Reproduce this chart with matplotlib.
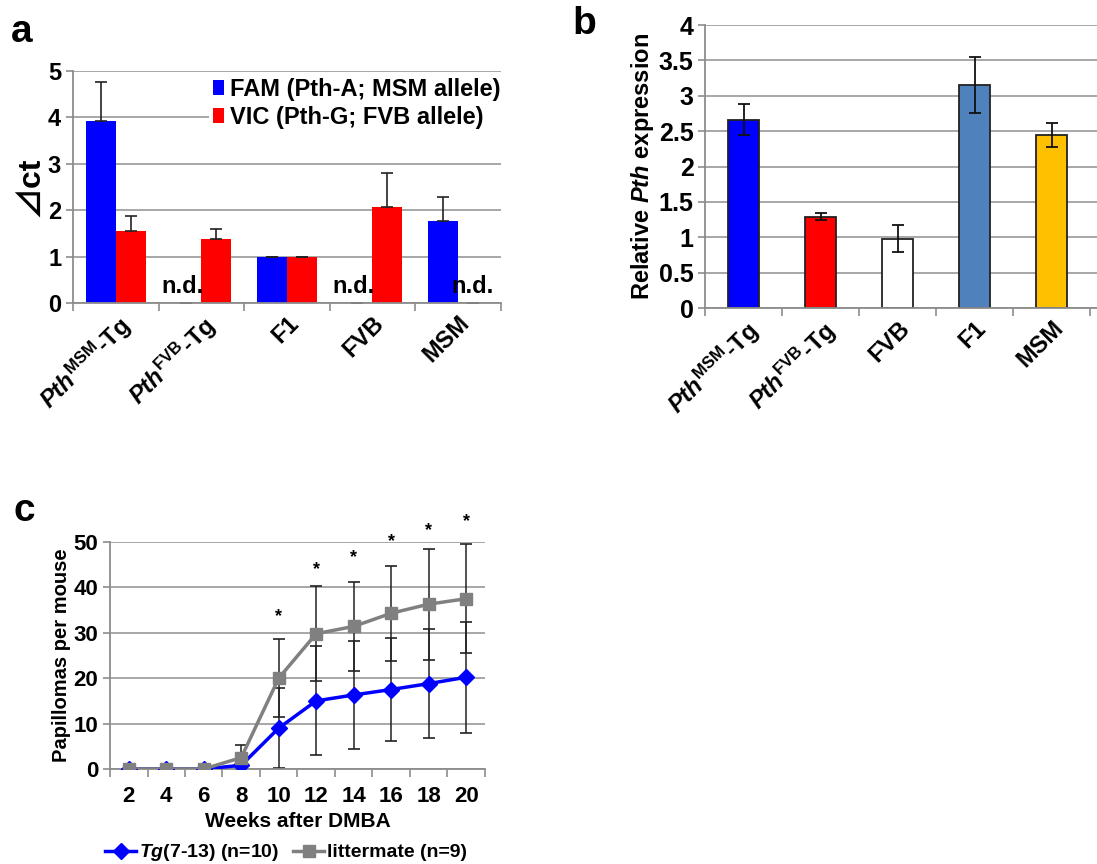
import numpy as np
import matplotlib
matplotlib.use("Agg")
import matplotlib.pyplot as plt
from matplotlib.ticker import FixedLocator

plt.rcParams['font.family'] = ['Liberation Sans', 'Noto Sans CJK JP', 'DejaVu Sans']
plt.rcParams['font.weight'] = 'bold'
plt.rcParams['mathtext.fontset'] = 'custom'
plt.rcParams['mathtext.rm'] = 'Liberation Sans:bold'
plt.rcParams['mathtext.bf'] = 'Liberation Sans:bold'
plt.rcParams['mathtext.it'] = 'Liberation Sans:italic:bold'

# ---- panel a data ----
a_groups = [r"$\mathit{Pth}^{\mathrm{MSM}}$-Tg", r"$\mathit{Pth}^{\mathrm{FVB}}$-Tg", "F1", "FVB", "MSM"]
a_fam = [3.93, 0.0, 1.0, 0.0, 1.78]
a_fam_err = [0.82, 0.0, 0.0, 0.0, 0.50]
a_vic = [1.55, 1.38, 1.0, 2.07, 0.0]
a_vic_err = [0.33, 0.22, 0.0, 0.73, 0.0]
a_fam_nd = [False, True, False, True, False]
a_vic_nd = [False, False, False, False, True]

# ---- panel b data ----
b_groups = [r"$\mathit{Pth}^{\mathrm{MSM}}$-Tg", r"$\mathit{Pth}^{\mathrm{FVB}}$-Tg", "FVB", "F1", "MSM"]
b_vals = [2.66, 1.29, 0.98, 3.15, 2.45]
b_err = [0.22, 0.05, 0.19, 0.40, 0.17]
b_colors = ['#0000FF', '#FF0000', '#FFFFFF', '#4F81BD', '#FFC000']

# ---- panel c data ----
weeks = [2, 4, 6, 8, 10, 12, 14, 16, 18, 20]
tg_mean = [0, 0, 0, 0.8, 9.0, 15.0, 16.3, 17.5, 18.8, 20.2]
tg_err = [0, 0, 0, 0.5, 8.8, 12.0, 11.8, 11.4, 12.0, 12.2]
lm_mean = [0, 0, 0, 2.5, 20.0, 29.8, 31.4, 34.3, 36.3, 37.5]
lm_err = [0, 0, 0, 2.7, 8.6, 10.4, 9.8, 10.5, 12.2, 12.0]
star_weeks = [10, 12, 14, 16, 18, 20]
star_y = [33.6, 44.0, 46.6, 50.0, 52.6, 54.5]

grid_c = '#A0A0A0'
spine_c = '#8C8C8C'

fig = plt.figure(figsize=(10.97, 8.64), dpi=100)


def style_axes(ax):
    ax.set_axisbelow(True)
    ax.yaxis.grid(True, color=grid_c, linewidth=1.3)
    for s in ['top', 'right']:
        ax.spines[s].set_visible(False)
    for s in ['left', 'bottom']:
        ax.spines[s].set_color(spine_c)
        ax.spines[s].set_linewidth(1.3)
    ax.tick_params(axis='y', colors=spine_c, labelcolor='black', length=5, width=1.2)
    ax.tick_params(axis='x', which='major', length=0)
    ax.tick_params(axis='x', which='minor', colors=spine_c, length=6, width=1.2)


# ---------------- panel a ----------------
ax1 = fig.add_axes([0.0665, 0.649, 0.39, 0.269])
x = np.arange(len(a_groups))
w = 0.35
ax1.bar(x - w / 2, a_fam, w, color='#0000FF', label='FAM (Pth-A; MSM allele)')
ax1.bar(x + w / 2, a_vic, w, color='#FF0000', label='VIC (Pth-G; FVB allele)')
ax1.errorbar(x - w / 2, a_fam, yerr=[np.zeros(5), a_fam_err], fmt='none',
             ecolor='#222222', elinewidth=1.2, capsize=4, capthick=1.2)
ax1.errorbar(x + w / 2, a_vic, yerr=[np.zeros(5), a_vic_err], fmt='none',
             ecolor='#222222', elinewidth=1.2, capsize=4, capthick=1.2)
for i in range(len(a_groups)):
    if a_fam_nd[i]:
        ax1.text(i - w / 2 - 0.05, 0.12, "n.d.", ha='center', va='bottom', fontsize=17, fontweight='bold')
    if a_vic_nd[i]:
        ax1.text(i + w / 2, 0.12, "n.d.", ha='center', va='bottom', fontsize=17, fontweight='bold')
ax1.set_xlim(-0.5, 4.5)
ax1.set_ylim(0, 5)
ax1.set_yticks(range(6))
style_axes(ax1)
ax1.set_xticks(x)
ax1.xaxis.set_minor_locator(FixedLocator(np.arange(-0.5, 5, 1)))
ax1.set_xticklabels(a_groups, rotation=45, ha='right', rotation_mode='anchor',
                    fontsize=17, fontweight='bold')
ax1.tick_params(axis='x', which='major', pad=6)
ax1.tick_params(axis='y', labelsize=17)
ax1.set_ylabel("⊿ct", fontsize=23, fontweight='bold', labelpad=2)
leg = ax1.legend(loc='upper right', bbox_to_anchor=(1.01, 0.99), borderaxespad=0,
                 fontsize=17, handlelength=0.45, handleheight=0.6, handletextpad=0.25,
                 frameon=True, framealpha=1, edgecolor='none', fancybox=False,
                 borderpad=0.2, labelspacing=0.2)
leg.set_zorder(5)
fig.text(0.010, 0.963, "a", fontsize=28, fontweight='bold', va='center')

# ---------------- panel b ----------------
ax2 = fig.add_axes([0.643, 0.6435, 0.357, 0.3275])
xb = np.arange(len(b_groups))
ax2.bar(xb, b_vals, 0.4, color=b_colors, edgecolor='#222222', linewidth=1.3,
        yerr=b_err, error_kw=dict(ecolor='#111111', elinewidth=1.3, capsize=4, capthick=1.3))
ax2.set_xlim(-0.5, 4.59)
ax2.set_ylim(0, 4)
ax2.set_yticks(np.arange(0, 4.01, 0.5))
ax2.set_yticklabels(['0', '0.5', '1', '1.5', '2', '2.5', '3', '3.5', '4'])
style_axes(ax2)
ax2.set_xticks(xb)
ax2.xaxis.set_minor_locator(FixedLocator(np.arange(-0.5, 5, 1)))
ax2.set_xticklabels(b_groups, rotation=45, ha='right', rotation_mode='anchor',
                    fontsize=17, fontweight='bold')
ax2.tick_params(axis='x', which='major', pad=6)
ax2.tick_params(axis='y', labelsize=18)
ax2.set_ylabel(r"Relative $\mathit{Pth}$ expression", fontsize=17, fontweight='bold', labelpad=2)
fig.text(0.522, 0.972, "b", fontsize=28, fontweight='bold', va='center')

# ---------------- panel c ----------------
ax3 = fig.add_axes([0.1003, 0.110, 0.3417, 0.2627])
xc = np.arange(len(weeks))
ax3.errorbar(xc, lm_mean, yerr=lm_err, fmt='none', ecolor='#222222',
             elinewidth=1.1, capsize=4, capthick=1.2, zorder=2)
ax3.errorbar(xc, tg_mean, yerr=tg_err, fmt='none', ecolor='#222222',
             elinewidth=1.1, capsize=4, capthick=1.2, zorder=2)
ax3.plot(xc, tg_mean, color='#0000FF', lw=2.5, marker='D', markersize=8,
         label='$\\mathit{Tg(7}$-$\\mathit{13)}$ (n=10)', zorder=3)
ax3.plot(xc, lm_mean, color='#808080', lw=2.5, marker='s', markersize=9,
         label='littermate (n=9)', zorder=4)
for wk, sy in zip(star_weeks, star_y):
    ax3.text(weeks.index(wk), sy, "*", ha='center', va='center', fontsize=13,
             fontweight='bold', clip_on=False)
ax3.set_xlim(-0.5, 9.5)
ax3.set_ylim(0, 50)
ax3.set_yticks(range(0, 51, 10))
style_axes(ax3)
ax3.set_xticks(xc)
ax3.xaxis.set_minor_locator(FixedLocator(np.arange(-0.5, 10, 1)))
ax3.set_xticklabels([str(v) for v in weeks], fontsize=16, fontweight='bold')
ax3.tick_params(axis='y', labelsize=16)
ax3.tick_params(axis='x', which='major', pad=12)
ax3.set_xlabel("Weeks after DMBA", fontsize=15, fontweight='bold', labelpad=4)
ax3.set_ylabel("Papillomas per mouse", fontsize=14.5, fontweight='bold', labelpad=2)
ax3.legend(loc='center', bbox_to_anchor=(0.47, -0.37), ncol=2, frameon=False,
           prop={'size': 14, 'weight': 'bold'},
           handlelength=1.6, handletextpad=0.15, columnspacing=0.7)
fig.text(0.012, 0.408, "c", fontsize=28, fontweight='bold', va='center')

fig.savefig("out.png", dpi=100)
